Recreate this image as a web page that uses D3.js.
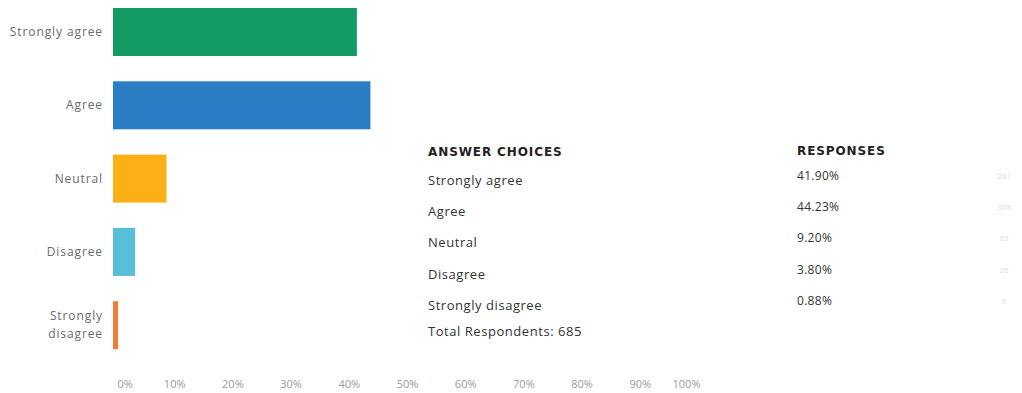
<!DOCTYPE html>
<html>
<head>
<meta charset="utf-8">
<script src="https://cdn.jsdelivr.net/npm/d3@7"></script>
<style>
  html, body { margin: 0; padding: 0; background: #fff; }
  svg { display: block; }
  text { font-family: "Open Sans", "Noto Sans", sans-serif; }
  text.head { font-family: "DejaVu Sans", sans-serif; }
</style>
</head>
<body>
<svg id="chart" width="1022" height="393"></svg>
<script>
// Survey answers and their shares of respondents
const categories = ["Strongly agree", "Agree", "Neutral", "Disagree", "Strongly disagree"];
const axisLabels = [["Strongly agree"], ["Agree"], ["Neutral"], ["Disagree"], ["Strongly", "disagree"]];
const percents = [41.90, 44.23, 9.20, 3.80, 0.88];
const counts = [287, 303, 63, 26, 6];
const barColors = ["#149a64", "#2b7ec4", "#fdb015", "#58c0d6", "#ee7e3a"];
const xTicks = [0, 10, 20, 30, 40, 50, 60, 70, 80, 90, 100];
const totalRespondents = 685;

const svg = d3.select("#chart");

const x = d3.scaleLinear().domain([0, 100]).range([113, 695]);
const y = d3.scaleBand().domain(categories).range([-17.3, 374.5]).padding(0.345);

// Bars
svg.append("g").selectAll("rect")
  .data(categories)
  .join("rect")
  .attr("x", x(0))
  .attr("y", d => y(d))
  .attr("width", (d, i) => Math.max(2, x(percents[i]) - x(0)))
  .attr("height", y.bandwidth())
  .attr("fill", (d, i) => barColors[i]);

// Category labels on the left
const lab = svg.append("g").selectAll("text")
  .data(categories)
  .join("text")
  .attr("text-anchor", "end")
  .attr("fill", "#6a6a6a")
  .attr("font-size", 12)
  .attr("letter-spacing", 0.9)
  .attr("x", 103);
lab.each(function(d, i) {
  const lines = axisLabels[i];
  const cy = y(d) + y.bandwidth() / 2;
  const t = d3.select(this);
  lines.forEach((ln, k) => {
    t.append("tspan")
      .attr("x", 103)
      .attr("y", cy + 4 + (k - (lines.length - 1) / 2) * 18)
      .text(ln);
  });
});

// Percentage axis along the bottom
const xAxis = d3.axisBottom(x)
  .tickValues(xTicks)
  .tickSize(0)
  .tickFormat(d => d + "%");
const gx = svg.append("g")
  .attr("transform", "translate(0,378)")
  .call(xAxis);
gx.select(".domain").remove();
gx.selectAll("text")
  .attr("fill", "#9a9a9a")
  .attr("font-size", 11)
  .attr("dx", 3)
  .attr("dy", "0.6em");
gx.selectAll(".tick").filter(d => d === 0).select("text")
  .attr("text-anchor", "start").attr("dx", 4);
gx.selectAll(".tick").filter(d => d === 100).select("text")
  .attr("text-anchor", "end").attr("dx", 5);

// Response table
const table = svg.append("g");
const colChoice = 428, colResp = 797, colCount = 1004;
table.append("text")
  .attr("class", "head")
  .attr("x", colChoice).attr("y", 156)
  .attr("font-size", 12).attr("font-weight", 700).attr("fill", "#222")
  .attr("letter-spacing", 0.9)
  .text("ANSWER CHOICES");
table.append("text")
  .attr("class", "head")
  .attr("x", colResp).attr("y", 155)
  .attr("font-size", 12).attr("font-weight", 700).attr("fill", "#222")
  .attr("letter-spacing", 0.9)
  .text("RESPONSES");

const rowY = i => 185 + i * 31.2;
table.selectAll("text.choice")
  .data(categories)
  .join("text")
  .attr("class", "choice")
  .attr("x", colChoice)
  .attr("y", (d, i) => rowY(i))
  .attr("font-size", 13).attr("fill", "#333")
  .attr("letter-spacing", 0.55)
  .text(d => d);
table.selectAll("text.resp")
  .data(percents)
  .join("text")
  .attr("class", "resp")
  .attr("x", colResp)
  .attr("y", (d, i) => rowY(i) - 5)
  .attr("font-size", 12).attr("fill", "#333")
  .attr("letter-spacing", 0.3)
  .text(d => d.toFixed(2) + "%");
table.selectAll("text.count")
  .data(counts)
  .join("text")
  .attr("class", "count")
  .attr("x", colCount)
  .attr("y", (d, i) => rowY(i) - 6)
  .attr("text-anchor", "middle")
  .attr("font-size", 8).attr("fill", "#dcdcdc")
  .text(d => d);
table.append("text")
  .attr("x", colChoice).attr("y", 336)
  .attr("font-size", 13).attr("fill", "#333")
  .attr("letter-spacing", 0.55)
  .text("Total Respondents: " + totalRespondents);
</script>
</body>
</html>
